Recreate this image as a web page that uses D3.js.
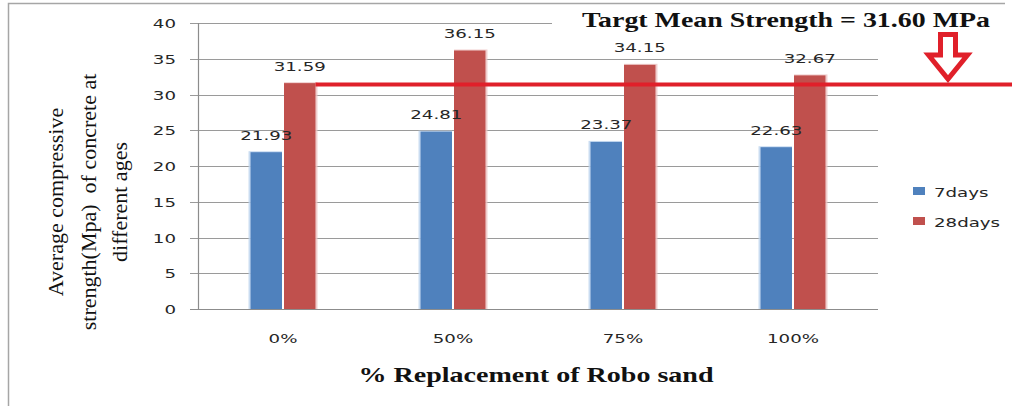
<!DOCTYPE html>
<html>
<head>
<meta charset="utf-8">
<script src="https://cdn.jsdelivr.net/npm/d3@7"></script>
<style>
  body { margin: 0; background: #fff; }
  svg { display: block; }
</style>
</head>
<body>
<div id="chart"></div>
<script>
// Data
const categories = ["0%", "50%", "75%", "100%"];
const seriesNames = ["7days", "28days"];
const days7 = [21.93, 24.81, 23.37, 22.63];
const days28 = [31.59, 36.15, 34.15, 32.67];
const yTicks = [0, 5, 10, 15, 20, 25, 30, 35, 40];
const targetStrength = 31.60;

const W = 1012, H = 406;
const plot = { left: 198, right: 878, top: 23, bottom: 309 };
const stretch = 1.4; // the picture is widened, so the sans texts are too

const svg = d3.select("#chart")
    .append("svg")
    .attr("width", W)
    .attr("height", H);

// outer frame (only left and top edges show)
svg.append("path")
    .attr("d", "M8.5,406 L8.5,3.5 L1005,3.5")
    .style("fill", "none")
    .style("stroke", "#a6a6a6")
    .style("stroke-width", 1.5);

// Scales
const x0 = d3.scaleBand()
    .domain(categories)
    .range([plot.left, plot.right])
    .paddingInner(0.618)
    .paddingOuter(0.309);

const x1 = d3.scaleBand()
    .domain(seriesNames)
    .range([0, x0.bandwidth()])
    .paddingInner(0.06);

const y = d3.scaleLinear()
    .domain([0, 40])
    .range([plot.bottom, plot.top]);

const color = d3.scaleOrdinal()
    .domain(seriesNames)
    .range(["#4f81bd", "#c0504d"]);

// helper for widened sans text
function sansText(g, xPos, yPos, str, anchor) {
    return g.append("text")
        .attr("transform", `translate(${xPos},${yPos}) scale(${stretch},1)`)
        .attr("text-anchor", anchor || "middle")
        .style("font-family", "'DejaVu Sans', Verdana, sans-serif")
        .style("font-size", "13px")
        .style("fill", "#262626")
        .text(str);
}

// Gridlines + y ticks
const grid = svg.append("g");
yTicks.forEach(t => {
    grid.append("line")
        .attr("x1", plot.left - 8)
        .attr("x2", plot.right)
        .attr("y1", Math.round(y(t)) + 0.5)
        .attr("y2", Math.round(y(t)) + 0.5)
        .style("stroke", t === 0 ? "#8c8c8c" : "#9a9a9a")
        .style("stroke-width", 1.2);
    sansText(svg, plot.left - 22, y(t) + 5, t, "end");
});

// y axis line
svg.append("line")
    .attr("x1", plot.left + 0.5)
    .attr("x2", plot.left + 0.5)
    .attr("y1", plot.top)
    .attr("y2", plot.bottom)
    .style("stroke", "#8c8c8c")
    .style("stroke-width", 1.2);

// Bars
const rows = categories.map((c, i) => ({ cat: c, values: [days7[i], days28[i]] }));

const groups = svg.append("g")
    .selectAll("g")
    .data(rows)
    .join("g")
    .attr("transform", d => `translate(${x0(d.cat)},0)`);

groups.each(function(d) {
    const g = d3.select(this);
    d.values.forEach((v, j) => {
        const s = seriesNames[j];
        const bx = x1(s);
        // soft glow behind the bar
        g.append("rect")
            .attr("x", j === 0 ? bx - 2 : bx)
            .attr("y", y(v) - 1)
            .attr("width", x1.bandwidth() + 2)
            .attr("height", plot.bottom - y(v) + 1)
            .style("fill", j === 0 ? "#bcd3ee" : "#ecc2c2")
            .style("opacity", 0.8);
        g.append("rect")
            .attr("x", bx)
            .attr("y", y(v))
            .attr("width", x1.bandwidth())
            .attr("height", plot.bottom - y(v))
            .style("fill", color(s));
    });
});

// Target line
svg.append("line")
    .attr("x1", x0(categories[0]) + x1("28days") + x1.bandwidth())
    .attr("x2", W)
    .attr("y1", y(targetStrength) + 1.5)
    .attr("y2", y(targetStrength) + 1.5)
    .style("stroke", "#e0202a")
    .style("stroke-width", 4);

// Value labels
groups.each(function(d) {
    const g = d3.select(this);
    d.values.forEach((v, j) => {
        const s = seriesNames[j];
        sansText(g, x1(s) + x1.bandwidth() / 2, y(v) - 12.5, v.toFixed(2));
    });
});

// Category labels
categories.forEach(c => {
    sansText(svg, x0(c) + x0.bandwidth() / 2, 343, c);
});

// Legend
const legend = svg.append("g");
seriesNames.forEach((s, i) => {
    legend.append("rect")
        .attr("x", 913)
        .attr("y", 187 + i * 30)
        .attr("width", 12)
        .attr("height", 8)
        .style("fill", color(s));
    sansText(legend, 934, 197 + i * 30, s, "start");
});

// Title with white backing
svg.append("rect")
    .attr("x", 552)
    .attr("y", 5)
    .attr("width", 450)
    .attr("height", 33)
    .style("fill", "#fff");

svg.append("text")
    .attr("x", 582)
    .attr("y", 27)
    .attr("textLength", 408)
    .attr("lengthAdjust", "spacingAndGlyphs")
    .style("font-family", "'Liberation Serif', 'Times New Roman', serif")
    .style("font-weight", "bold")
    .style("font-size", "22px")
    .style("fill", "#111")
    .text("Targt Mean Strength = 31.60 MPa");

// Down arrow
const ax = 948;
svg.append("path")
    .attr("d", `M${ax - 7.5},34.5 L${ax + 7.5},34.5 L${ax + 7.5},55 L${ax + 19.5},55 L${ax},79 L${ax - 19.5},55 L${ax - 7.5},55 Z`)
    .style("fill", "#fff")
    .style("stroke", "#e0202a")
    .style("stroke-width", 5)
    .style("stroke-linejoin", "miter");

// Axis titles
svg.append("text")
    .attr("x", 536)
    .attr("y", 382)
    .attr("text-anchor", "middle")
    .attr("textLength", 355)
    .attr("lengthAdjust", "spacingAndGlyphs")
    .style("font-family", "'Liberation Serif', 'Times New Roman', serif")
    .style("font-weight", "bold")
    .style("font-size", "21px")
    .style("fill", "#111")
    .text("% Replacement of Robo sand");

const yTitle = ["Average compressive", "strength(Mpa)  of concrete at", "different ages"];
const yTitleX = [63, 96, 127];
yTitle.forEach((line, i) => {
    svg.append("text")
        .attr("transform", `translate(${yTitleX[i]},202) rotate(-90)`)
        .attr("text-anchor", "middle")
        .attr("xml:space", "preserve")
        .style("white-space", "pre")
        .style("font-family", "'Liberation Serif', 'Times New Roman', serif")
        .style("font-size", "22px")
        .style("fill", "#111")
        .text(line);
});
</script>
</body>
</html>
